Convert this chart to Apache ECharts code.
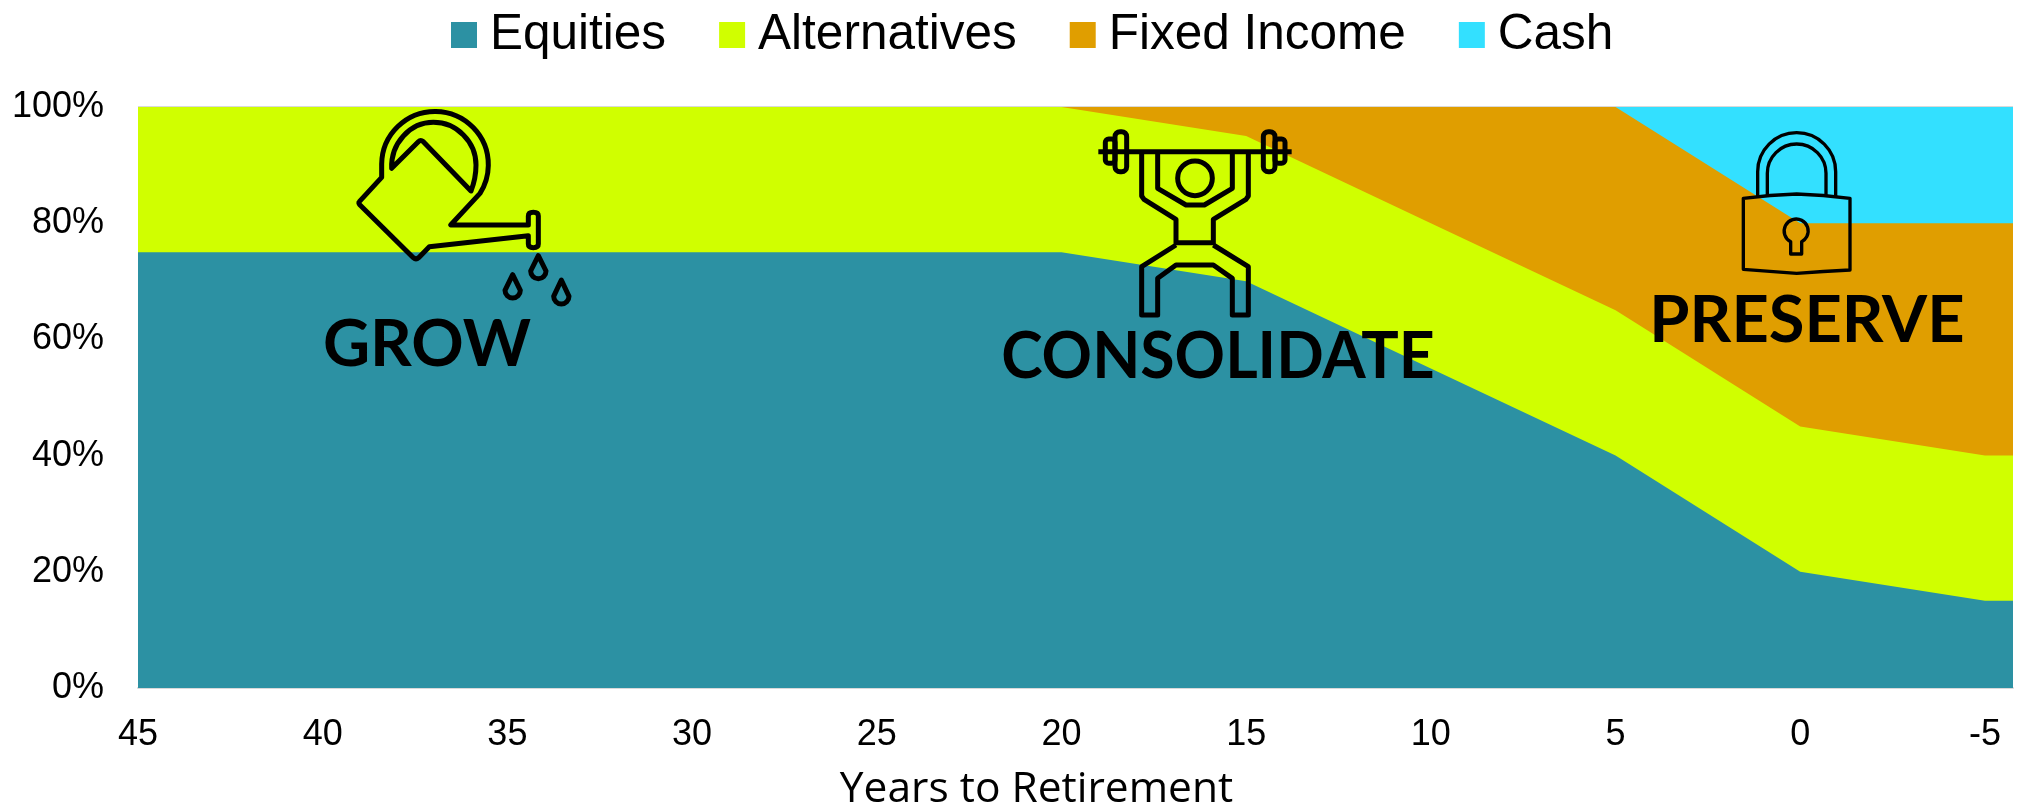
<!DOCTYPE html>
<html><head><meta charset="utf-8">
<style>html,body{margin:0;padding:0;background:#fff}#c{width:2020px;height:807px}</style>
<script src="https://cdn.jsdelivr.net/npm/echarts@6/dist/echarts.min.js"></script>
</head><body><div id="c"></div>
<script>
// x positions: years to retirement; the last one is where the plot area ends, just past the -5 tick
const years = [45,40,35,30,25,20,15,10,5,0,-5,-5.76];
const tickYears = [45,40,35,30,25,20,15,10,5,0,-5];
const equities = [75,75,75,75,75,75,70,55,40,20,15,15];
const alternatives = [25,25,25,25,25,25,25,25,25,25,25,25];
const fixedIncome = [0,0,0,0,0,0,5,20,35,35,40,40];
const cash = [0,0,0,0,0,0,0,0,0,20,20,20];
const yTicks = [0,20,40,60,80,100];
const names = ['Equities','Alternatives','Fixed Income','Cash'];
const colors = ['#2C91A3','#D0FF00','#E09E00','#33E0FF'];
const values = [equities,alternatives,fixedIncome,cash];

// running totals: each band is drawn down to the axis, top band first
const totals = values.map((_,i)=>years.map((_,j)=>values.slice(0,i+1).reduce((s,a)=>s+a[j],0)));

const chart = echarts.init(document.getElementById('c'),null,{renderer:'canvas'});

let shapeId = 0;
function icon(ox,oy,paths,lw){
  return {type:'group',x:ox,y:oy,scaleX:1/3,scaleY:1/3,z:100,
    children:paths.map(d=>{
      const name='iconShape'+(shapeId++);
      echarts.graphic.registerShape(name,echarts.graphic.extendPath(d,{}));
      return {type:name,z:100,style:{fill:'none',stroke:'#000',lineWidth:lw,lineJoin:'round',lineCap:'butt'}};
    })};
}
function circle(cx,cy,r){return `M${cx-r} ${cy}A${r} ${r} 0 1 1 ${cx+r} ${cy}A${r} ${r} 0 1 1 ${cx-r} ${cy}Z`;}
function drop(cx,tip,cy,r){return `M${cx} ${tip}L${cx+r} ${cy-3}A${r} ${r} 0 1 1 ${cx-r} ${cy-3}Z`;}
function rrect(x0,y0,x1,y1,r){return `M${x0+r} ${y0}H${x1-r}A${r} ${r} 0 0 1 ${x1} ${y0+r}V${y1-r}A${r} ${r} 0 0 1 ${x1-r} ${y1}H${x0+r}A${r} ${r} 0 0 1 ${x0} ${y1-r}V${y0+r}A${r} ${r} 0 0 1 ${x0+r} ${y0}Z`;}
function word(t,cx,cy,sx){
  return {type:'text',z:101,x:cx,y:cy,scaleX:sx||1,style:{text:t,fill:'#000',font:'bold 65px Lato',align:'center',verticalAlign:'middle'}};
}

const can = [
 'M118 335L185 262V222A160 160 0 1 1 480 310L392 405H625V378Q625 367 640 367Q655 367 655 378V462Q655 473 640 473Q625 473 625 462V437L328 470L296 503Q288 510 280 503L120 345Q114 338 118 335Z',
 'M215 235C212 160 270 97 340 97C410 97 468 155 468 225C468 255 462 280 453 303L310 155Q302 148 295 155Z',
 drop(655,497,546,23),drop(578,554,604,23),drop(724,570,622,23)
];
const lifter = [
 'M295 125H875',
 rrect(345,65,380,185,15),rrect(316,87,345,160,10),rrect(790,65,825,185,15),rrect(825,87,855,160,10),
 'M425 125V258L432 268L528 328V398H640V328L738 268L745 258V125',
 'M473 125V235L558 285H613L697 235V125',
 circle(585,205,52),
 'M528 405L425 470V615H473V505L528 465H640L697 505V615H745V470L640 405'
];
const lock = [
 'M323 262V185A117 117 0 0 1 557 185V262',
 'M352 258V190A88 88 0 0 1 528 190V258',
 'M280 265Q360 254 440 252Q520 254 600 265V480Q520 484 440 490Q360 484 280 478Z',
 'M422 395A36 36 0 1 1 455 395V432H422Z'
];

chart.setOption({
  animation:false,
  backgroundColor:'#fff',
  legend:{
    left:451,top:10,padding:0,itemWidth:26,itemHeight:26,itemGap:53,icon:'rect',
    data:names,
    textStyle:{fontFamily:'Liberation Sans',fontSize:49.5,color:'#000',padding:[0,0,0,8]}
  },
  grid:{left:138,right:7,top:107,bottom:119,containLabel:false,outerBoundsMode:'none'},
  xAxis:{
    type:'value',inverse:true,min:-5.76,max:45,
    axisLine:{show:true,onZero:false,lineStyle:{color:'#D9D9D9',width:2}},
    axisTick:{show:false},splitLine:{show:false},
    axisLabel:{customValues:tickYears,fontFamily:'Liberation Sans',fontSize:36,color:'#000',margin:29,hideOverlap:false,showMinLabel:true,showMaxLabel:true},
    name:'Years to Retirement',nameLocation:'middle',nameGap:80,
    nameTextStyle:{fontFamily:'Open Sans',fontSize:42.5,color:'#000',padding:[0,78,0,0]}
  },
  yAxis:{
    type:'value',min:0,max:100,interval:20,
    axisLine:{show:false},axisTick:{show:false},
    splitLine:{show:true,lineStyle:{color:'#D9D9D9',width:2}},
    axisLabel:{formatter:v=>v+'%',fontFamily:'Liberation Sans',fontSize:36,color:'#000',margin:34,padding:[0,0,0,0],
      lineHeight:41,customValues:yTicks}
  },
  series:names.map((n,i)=>({
    name:n,type:'line',symbol:'none',smooth:false,z:2+names.length-i,
    lineStyle:{width:0},itemStyle:{color:colors[i]},
    areaStyle:{color:colors[i],opacity:1,origin:'start'},
    data:years.map((y,j)=>[y,totals[i][j]])
  })),
  graphic:{elements:[
    icon(320,90,can,15),icon(1000,110,lifter,15),icon(1650,110,lock,10),
    word('GROW',427,345),word('CONSOLIDATE',1218,357,0.962),word('PRESERVE',1807,321)
  ]}
});
</script></body></html>
